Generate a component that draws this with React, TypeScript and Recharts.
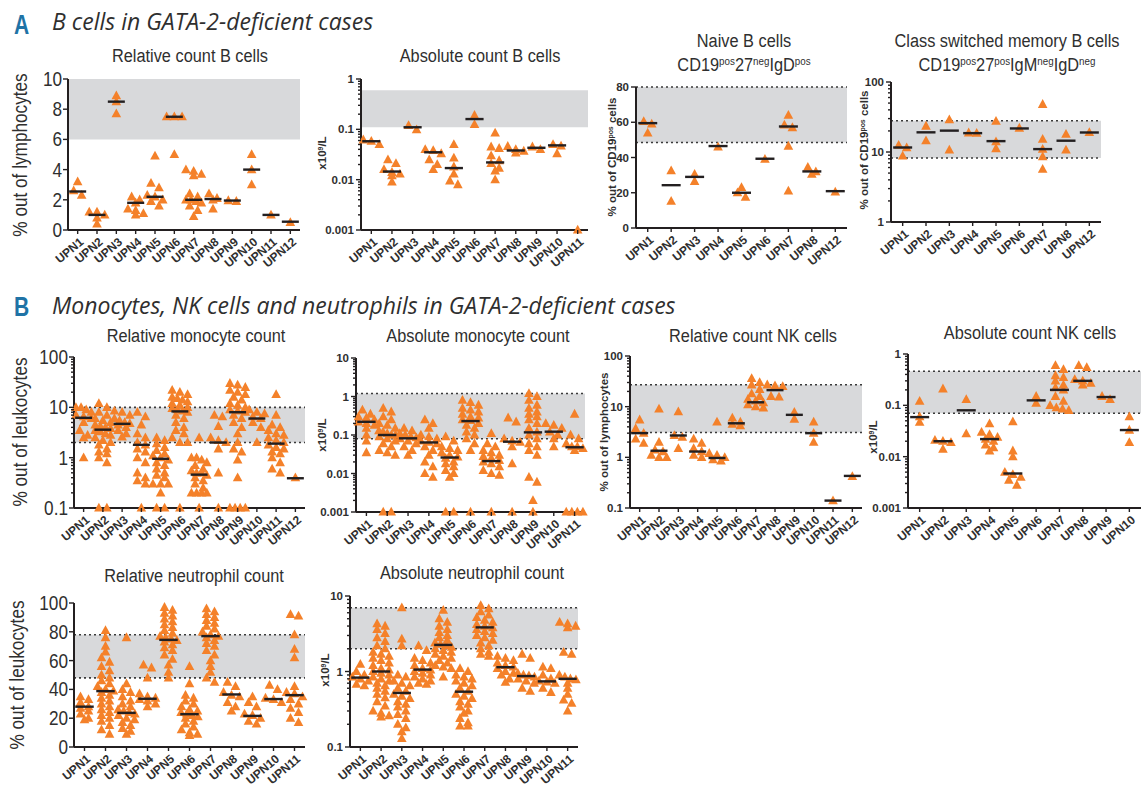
import React from 'react';
import { ScatterChart, Scatter, XAxis, YAxis, ReferenceArea, ReferenceLine } from 'recharts';

const ORANGE = '#f4812a';
const INK = '#231f20';
const BAND = '#d8d9db';
const TXT = '#2f2f2f';
const SANS = "'Liberation Sans',Arial,sans-serif";
const SQUEEZE = 0.86; // Arial scaled down reads like the condensed face of the original

// ---- categories ----
const upn12 = ['UPN1', 'UPN2', 'UPN3', 'UPN4', 'UPN5', 'UPN6', 'UPN7', 'UPN8', 'UPN9', 'UPN10', 'UPN11', 'UPN12'];
const upn11 = upn12.slice(0, 11);
const upn10 = upn12.slice(0, 10);
const upnSubset = ['UPN1', 'UPN2', 'UPN3', 'UPN4', 'UPN5', 'UPN6', 'UPN7', 'UPN8', 'UPN12'];

// ---- A: B cells ----
const relBValues = [
  [3.2, 2.6, 2.3], [1.2, 1.2, 1.0, 0.8, 0.4], [8.9, 8.5, 7.7], [2.2, 2.0, 1.8, 1.4, 1.3, 1.1, 1.0],
  [4.9, 3.1, 2.8, 2.3, 2.2, 2.0, 1.9, 1.6], [7.5, 7.5, 7.5, 5.0],
  [4.0, 3.9, 3.7, 3.6, 2.4, 2.2, 2.0, 2.0, 1.9, 1.8, 1.6, 1.3, 0.9], [2.4, 2.1, 2.0, 1.4], [1.95, 1.9],
  [5.0, 4.0, 3.0], [1.0], [0.5],
];
const relBMedians = [2.55, 1.0, 8.5, 1.8, 2.2, 7.5, 2.0, 2.05, 1.95, 4.0, 1.0, 0.55];
const relBTicks = [0, 2, 4, 6, 8, 10];
const relBRange: [number, number] = [6, 10];

const absBValues = [
  [0.062, 0.058, 0.05], [0.025, 0.021, 0.016, 0.014, 0.013, 0.012, 0.009], [0.12, 0.098],
  [0.04, 0.038, 0.033, 0.025, 0.02, 0.016], [0.05, 0.027, 0.018, 0.013, 0.0095, 0.008], [0.19, 0.125],
  [0.085, 0.045, 0.042, 0.03, 0.024, 0.021, 0.017, 0.015, 0.01], [0.046, 0.04, 0.037, 0.034], [0.045, 0.04],
  [0.05, 0.047, 0.033], [0.001],
];
const absBMedians = [0.058, 0.0145, 0.11, 0.035, 0.017, 0.16, 0.022, 0.038, 0.043, 0.048, null];
const absBTicks = [0.001, 0.01, 0.1, 1];
const absBRange: [number, number] = [0.11, 0.6];

const naiveValues = [
  [60.5, 59, 54], [32.5, 15.2], [30.5, 26.5], [46], [23, 20, 17.5], [39], [64, 58.5, 57, 46.5, 21],
  [34.5, 32, 30.5], [20.5],
];
const naiveMedians = [59.5, 24.3, 29, 46.5, 20, 39.3, 57.6, 32.1, 20.9];
const naiveTicks = [0, 20, 40, 60, 80];
const naiveRange: [number, number] = [48.5, 80];

const csmValues = [
  [12.5, 11.5, 8.8], [23.5, 14.5], [29, 10.7], [18.8, 18.6], [27.5, 14, 11.2], [22],
  [48, 15.2, 11, 8.6, 5.7], [18, 10.7], [19],
];
const csmMedians = [11.6, 19.1, 20.2, 18.6, 14.3, 21.7, 11, 14.5, 19];
const csmTicks = [1, 10, 100];
const csmRange: [number, number] = [8.2, 28];

// ---- B: monocytes, NK cells, neutrophils ----
const relMonoValues = [
  [10, 10, 9, 8, 7, 6.5, 6, 5, 3.5, 2.8, 2.5, 1.0],
  [12, 10, 8, 7, 6, 5.5, 5, 4.5, 4.2, 4, 3.8, 3.5, 3.3, 3, 2.8, 2.5, 2.2, 2, 1.8, 1.5, 1.3, 1.2, 1.0, 0.8, 0.1, 0.1],
  [8.5, 8, 7, 6, 5.5, 5, 4.8, 4.5, 4, 3.5, 3, 2.6],
  [8, 6.5, 4.5, 3, 2.5, 2, 1.8, 1.5, 1.3, 1, 0.8, 0.5, 0.4, 0.35, 0.3, 0.1],
  [2.5, 2.2, 1.9, 1.6, 1.4, 1.2, 1.1, 1.0, 0.9, 0.8, 0.7, 0.6, 0.5, 0.45, 0.4, 0.3, 0.3, 0.3, 0.2, 0.1, 0.1],
  [22, 20, 18, 16, 15, 14, 13, 12, 11, 10, 9.5, 9, 8.5, 8, 7, 6, 5, 4, 3.5, 3, 2.5, 2, 2, 0.1],
  [2.5, 1, 1, 0.9, 0.8, 0.7, 0.6, 0.55, 0.5, 0.5, 0.45, 0.4, 0.35, 0.3, 0.25, 0.2, 0.2, 0.2, 0.2, 0.1],
  [7, 6.5, 4.2, 2.5, 2.2, 2, 1.5, 0.5, 0.1],
  [30, 28, 25, 22, 20, 18, 16, 14, 12, 11, 10, 9, 8.5, 8, 7, 6, 5, 4, 3, 2, 1.5, 1.3, 0.9, 0.4, 0.1, 0.1, 0.1, 0.1],
  [9, 8, 7.5, 6.5, 6, 5, 4, 2],
  [18, 7, 4.5, 4, 3.5, 3, 2.8, 2.5, 2.2, 2, 1.8, 1.6, 1.5, 1.3, 1.2, 1, 0.8, 0.6, 0.5],
  [0.4],
];
const relMonoMedians = [6.2, 3.6, 4.7, 1.8, 0.95, 8.3, 0.46, 2.0, 8.0, 6.0, 1.9, 0.39];
const relMonoTicks = [0.1, 1, 10, 100];
const relMonoRange: [number, number] = [2, 10];

const absMonoValues = [
  [0.45, 0.35, 0.3, 0.28, 0.25, 0.22, 0.2, 0.18, 0.15, 0.1, 0.07, 0.035],
  [0.5, 0.4, 0.3, 0.25, 0.2, 0.18, 0.15, 0.13, 0.12, 0.11, 0.1, 0.1, 0.09, 0.08, 0.07, 0.06, 0.05, 0.04, 0.035, 0.03, 0.001, 0.001],
  [0.15, 0.13, 0.11, 0.1, 0.09, 0.085, 0.08, 0.07, 0.06, 0.05, 0.04, 0.03],
  [0.25, 0.2, 0.15, 0.1, 0.09, 0.08, 0.07, 0.065, 0.06, 0.05, 0.04, 0.03, 0.02, 0.015, 0.01, 0.008],
  [0.09, 0.07, 0.05, 0.045, 0.04, 0.035, 0.03, 0.027, 0.025, 0.02, 0.018, 0.015, 0.012, 0.01, 0.008, 0.001, 0.001],
  [0.8, 0.7, 0.6, 0.5, 0.45, 0.4, 0.35, 0.3, 0.28, 0.25, 0.24, 0.2, 0.18, 0.15, 0.12, 0.1, 0.08, 0.06, 0.04, 0.001],
  [0.11, 0.06, 0.05, 0.04, 0.035, 0.03, 0.028, 0.025, 0.022, 0.02, 0.018, 0.015, 0.012, 0.01, 0.009, 0.001],
  [0.28, 0.22, 0.08, 0.07, 0.065, 0.05, 0.018, 0.001],
  [1.2, 1.0, 0.8, 0.6, 0.5, 0.4, 0.35, 0.3, 0.25, 0.2, 0.15, 0.12, 0.1, 0.08, 0.06, 0.05, 0.04, 0.03, 0.008, 0.006, 0.002, 0.001],
  [0.2, 0.18, 0.15, 0.12, 0.1, 0.08, 0.05],
  [0.35, 0.1, 0.08, 0.06, 0.05, 0.05, 0.045, 0.04, 0.001, 0.001, 0.001, 0.001],
];
const absMonoMedians = [0.22, 0.1, 0.082, 0.064, 0.026, 0.23, 0.021, 0.067, 0.117, 0.122, 0.048];
const absMonoTicks = [0.001, 0.01, 0.1, 1, 10];
const absMonoRange: [number, number] = [0.08, 1.2];

const relNKValues = [
  [5.5, 3.7, 3, 2.3, 1.9], [9, 2, 1.4, 1.3, 1.1, 1.0, 1.0], [8, 2.7, 2.5, 1.5], [2.3, 1.9, 1.5, 1.3, 1.1, 1.0],
  [5, 1.2, 1.1, 1.0, 0.9, 0.85], [6, 5, 4.5, 4.2], [36, 30, 27, 22, 18, 16, 14, 13, 12, 11, 10, 9.5],
  [27, 26, 25, 16, 15.5], [7.8, 5.7], [5, 3, 2], [0.14], [0.42],
];
const relNKMedians = [3.0, 1.35, 2.7, 1.3, 0.97, 4.7, 12.2, 21.2, 6.9, 3.0, 0.14, 0.43];
const relNKTicks = [0.1, 1, 10, 100];
const relNKRange: [number, number] = [3.1, 27];

const absNKValues = [
  [0.12, 0.06, 0.047], [0.21, 0.021, 0.02, 0.019, 0.014], [0.13, 0.028],
  [0.044, 0.03, 0.027, 0.024, 0.022, 0.02, 0.017, 0.015, 0.013],
  [0.048, 0.013, 0.01, 0.005, 0.0045, 0.004, 0.0035, 0.0028], [0.15, 0.11],
  [0.6, 0.5, 0.38, 0.35, 0.3, 0.25, 0.22, 0.2, 0.15, 0.12, 0.1, 0.09, 0.085, 0.08],
  [0.6, 0.55, 0.32, 0.3, 0.27, 0.25], [0.15, 0.13], [0.06, 0.033, 0.019],
];
const absNKMedians = [0.059, 0.02, 0.08, 0.022, 0.0047, 0.125, 0.2, 0.3, 0.145, 0.033];
const absNKTicks = [0.001, 0.01, 0.1, 1];
const absNKRange: [number, number] = [0.07, 0.46];

const relNeuValues = [
  [35, 33, 31, 28, 27, 25, 23, 20, 19],
  [81, 76, 70, 66, 62, 59, 56, 53, 50, 48, 46, 44, 42, 40, 39, 38, 36, 34, 32, 30, 28, 26, 24, 22, 20, 18, 15, 12, 9],
  [76, 44, 40, 38, 35, 32, 30, 28, 26, 25, 24, 23, 22, 20, 19, 17, 15, 13, 11, 9],
  [57, 55, 48, 37, 35, 34, 33, 32, 30, 28],
  [97, 95, 93, 91, 89, 87, 85, 83, 81, 79, 77, 76, 75, 74, 73, 71, 69, 67, 64, 61, 57, 52, 48],
  [56, 44, 36, 34, 32, 30, 28, 26, 25, 24, 23, 22, 21, 20, 18, 16, 14, 12, 10, 9, 8],
  [96, 94, 92, 90, 88, 86, 84, 82, 80, 78, 77, 76, 74, 72, 70, 67, 64, 60, 56, 52, 48, 45],
  [45, 42, 38, 36, 35, 31, 28, 25], [35, 31, 28, 23, 22, 20, 18, 16], [43, 40, 34, 33, 31],
  [92, 91, 78, 68, 62, 42, 38, 37, 35, 33, 30, 27, 24, 20, 17],
];
const relNeuMedians = [28, 38.8, 23.7, 33.5, 74.4, 22.8, 77, 36.5, 21.6, 33.3, 36];
const relNeuTicks = [0, 20, 40, 60, 80, 100];
const relNeuRange: [number, number] = [48, 78];

const absNeuValues = [
  [1.25, 1.0, 0.9, 0.85, 0.8, 0.75, 0.68, 0.65],
  [4.3, 4.0, 3.6, 3.2, 2.8, 2.5, 2.2, 2.0, 1.8, 1.7, 1.6, 1.5, 1.4, 1.3, 1.2, 1.1, 1.05, 1.0, 0.95, 0.9, 0.85, 0.8, 0.75, 0.7, 0.65, 0.6, 0.55, 0.5, 0.45, 0.4, 0.35, 0.3, 0.28, 0.26, 0.25],
  [7.0, 2.7, 2.2, 0.9, 0.85, 0.75, 0.7, 0.65, 0.6, 0.55, 0.5, 0.47, 0.44, 0.4, 0.37, 0.34, 0.3, 0.27, 0.24, 0.2, 0.18, 0.16, 0.13],
  [2.2, 1.9, 1.5, 1.4, 1.3, 1.2, 1.1, 1.05, 1.0, 0.95, 0.9, 0.85, 0.8, 0.75, 0.7, 0.68],
  [6.5, 5.0, 4.5, 4.0, 3.6, 3.3, 3.0, 2.8, 2.6, 2.4, 2.3, 2.2, 2.1, 2.0, 1.9, 1.8, 1.7, 1.6, 1.5, 1.4, 1.3, 1.2, 1.15, 1.1, 0.85],
  [1.1, 1.0, 0.9, 0.85, 0.8, 0.75, 0.7, 0.65, 0.6, 0.55, 0.5, 0.47, 0.44, 0.4, 0.37, 0.34, 0.3, 0.28, 0.24, 0.21, 0.19, 0.19],
  [7.5, 6.8, 6.2, 5.6, 5.2, 4.8, 4.5, 4.2, 4.0, 3.8, 3.6, 3.4, 3.2, 3.0, 2.8, 2.6, 2.4, 2.2, 2.0, 1.8, 1.7, 1.6],
  [1.6, 1.5, 1.4, 1.3, 1.2, 1.15, 1.1, 1.0, 0.95, 0.9, 0.8, 0.72],
  [1.7, 1.5, 0.95, 0.9, 0.88, 0.85, 0.8, 0.75, 0.7, 0.6, 0.55],
  [1.15, 1.1, 0.9, 0.8, 0.75, 0.73, 0.7, 0.6, 0.53],
  [4.5, 4.3, 4.0, 3.8, 1.8, 1.7, 0.9, 0.85, 0.8, 0.78, 0.7, 0.6, 0.5, 0.42, 0.38, 0.3],
];
const absNeuMedians = [0.83, 1.0, 0.52, 1.06, 2.25, 0.54, 3.84, 1.14, 0.87, 0.74, 0.8];
const absNeuTicks = [0.1, 1, 10];
const absNeuRange: [number, number] = [2.0, 7.0];

// ---- panel component ----
const Y_W = 60;
const M_TOP = 10;
const X_H = 56;
const M_RIGHT = 4;

type Box = { x0: number; x1: number; y0: number; y1: number };
type PanelProps = {
  cats: string[];
  values: number[][];
  medians: (number | null)[];
  ticks: number[];
  band: [number, number];
  log?: boolean;
  dotted?: boolean;
  big?: boolean;
  box: Box;
};

const withMinor = (majors: number[]) => {
  const out: number[] = [];
  for (let i = 0; i < majors.length - 1; i++) {
    for (let k = 1; k < 10; k++) out.push(+(majors[i] * k).toPrecision(3));
  }
  out.push(majors[majors.length - 1]);
  return out;
};

const Tri = (props: any) => {
  const { cx, cy } = props;
  if (cx == null || cy == null) return <g />;
  return <polygon points={`${cx},${cy - 5.2} ${cx - 4.8},${cy + 3.6} ${cx + 4.8},${cy + 3.6}`} fill={ORANGE} />;
};

function DotPanel(p: PanelProps) {
  const { x0, x1, y0, y1 } = p.box;
  const plotW = x1 - x0;
  const plotH = y1 - y0;
  const n = p.cats.length;
  const step = plotW / n;
  const domain: [number, number] = [p.ticks[0], p.ticks[p.ticks.length - 1]];
  const tf = (v: number) => (p.log ? Math.log10(v) : v);
  const pxPer = plotH / (tf(domain[1]) - tf(domain[0]));

  // spread points of similar value side by side (dot-plot layout)
  const points: { x: number; y: number }[] = [];
  p.values.forEach((vals, i) => {
    const sorted = [...vals].sort((a, b) => b - a);
    const rows: number[][] = [];
    sorted.forEach((v) => {
      const last = rows[rows.length - 1];
      if (last && (tf(last[0]) - tf(v)) * pxPer < 5) last.push(v);
      else rows.push([v]);
    });
    rows.forEach((row) => {
      const m = row.length;
      const sp = Math.min(8, (0.8 * step) / Math.max(m - 1, 1));
      row.forEach((v, k) => points.push({ x: i + 1 + ((k - (m - 1) / 2) * sp) / step, y: v }));
    });
  });
  const meds = p.medians
    .map((m, i) => (m == null ? null : { x: i + 1, y: m }))
    .filter((d): d is { x: number; y: number } => d !== null);
  const medW = Math.min(0.88 * step, 19);

  const yTicks = p.log ? withMinor(p.ticks) : p.ticks;
  const axisY = M_TOP + plotH;

  const yTick = (props: any) => {
    const { y, payload } = props;
    const v = payload.value;
    const major = p.ticks.indexOf(v) >= 0;
    const tx = Y_W - (p.big ? 6 : 7);
    return (
      <g>
        <line x1={Y_W} x2={Y_W - (major ? 5 : 3)} y1={y} y2={y} stroke={INK} strokeWidth={1.4} />
        {major && (
          <text
            transform={p.big ? `translate(${tx},${y}) scale(${SQUEEZE},1)` : `translate(${tx},${y})`}
            dy="0.35em"
            textAnchor="end"
            fill={TXT}
            fontFamily={SANS}
            fontSize={p.big ? 20 : 11.5}
            fontWeight={p.big ? 'normal' : 'bold'}
          >
            {String(v)}
          </text>
        )}
      </g>
    );
  };

  const xTick = (props: any) => {
    const { x, payload } = props;
    return (
      <g>
        <line x1={x} x2={x} y1={axisY} y2={axisY + 4} stroke={INK} strokeWidth={1.4} />
        <text
          transform={`translate(${x + 4},${axisY + 10}) rotate(-40)`}
          textAnchor="end"
          dy="0.35em"
          fill={TXT}
          fontFamily={SANS}
          fontSize={12}
          fontWeight="bold"
        >
          {p.cats[payload.value - 1]}
        </text>
      </g>
    );
  };

  const medShape = (props: any) => {
    const { cx, cy } = props;
    if (cx == null || cy == null) return <g />;
    return <line x1={cx - medW / 2} x2={cx + medW / 2} y1={cy} y2={cy} stroke={INK} strokeWidth={2.4} />;
  };

  return (
    <div style={{ position: 'absolute', left: x0 - Y_W, top: y0 - M_TOP }}>
      <ScatterChart
        width={Y_W + plotW + M_RIGHT}
        height={M_TOP + plotH + X_H}
        margin={{ top: M_TOP, right: M_RIGHT, left: 0, bottom: 0 }}
      >
        <XAxis
          type="number"
          dataKey="x"
          domain={[0.5, n + 0.5]}
          ticks={p.cats.map((_, i) => i + 1)}
          interval={0}
          height={X_H}
          tick={xTick}
          tickLine={false}
          axisLine={{ stroke: INK, strokeWidth: 2 }}
        />
        <YAxis
          type="number"
          dataKey="y"
          scale={p.log ? 'log' : 'linear'}
          domain={domain}
          ticks={yTicks}
          interval={0}
          width={Y_W}
          tick={yTick}
          tickLine={false}
          axisLine={{ stroke: INK, strokeWidth: 2 }}
        />
        <ReferenceArea y1={p.band[0]} y2={p.band[1]} fill={BAND} fillOpacity={1} stroke="none" />
        {p.dotted && <ReferenceLine y={p.band[0]} stroke="#3a3a3a" strokeWidth={1.6} strokeDasharray="2 3" />}
        {p.dotted && <ReferenceLine y={p.band[1]} stroke="#3a3a3a" strokeWidth={1.6} strokeDasharray="2 3" />}
        <Scatter data={points} shape={Tri} isAnimationActive={false} />
        <Scatter data={meds} shape={medShape} isAnimationActive={false} />
      </ScatterChart>
    </div>
  );
}

// ---- text helpers ----
const Rich = ({ parts, size }: { parts: string[]; size: number }) => (
  <>
    {parts.map((s, i) =>
      s.startsWith('^') ? (
        <tspan key={i} fontSize={size * 0.6} baselineShift="super">
          {s.slice(1)}
        </tspan>
      ) : (
        <tspan key={i}>{s}</tspan>
      )
    )}
  </>
);

const Title = ({ x, y, parts }: { x: number; y: number; parts: string[] }) => (
  <text
    transform={`translate(${x},${y}) scale(${SQUEEZE},1)`}
    textAnchor="middle"
    fontFamily={SANS}
    fontSize={19}
    fill={TXT}
  >
    <Rich parts={parts} size={19} />
  </text>
);

const YLabel = ({ x, y, parts, big }: { x: number; y: number; parts: string[]; big?: boolean }) => (
  <text
    transform={`translate(${x},${y}) rotate(-90)${big ? ` scale(${SQUEEZE},1)` : ''}`}
    textAnchor="middle"
    dy="0.35em"
    fontFamily={SANS}
    fontSize={big ? 20 : 11.5}
    fontWeight={big ? 'normal' : 'bold'}
    fill={TXT}
  >
    <Rich parts={parts} size={big ? 20 : 11.5} />
  </text>
);

const HEAD = "'Open Sans',Lato,sans-serif";

export default function App() {
  return (
    <div
      style={{ position: 'absolute', left: 0, top: 0, width: 1141, height: 789, background: '#fff', overflow: 'hidden' }}
    >
      <DotPanel cats={upn12} values={relBValues} medians={relBMedians} ticks={relBTicks} band={relBRange} big
        box={{ x0: 68, x1: 300, y0: 79, y1: 230 }} />
      <DotPanel cats={upn11} values={absBValues} medians={absBMedians} ticks={absBTicks} band={absBRange} log
        box={{ x0: 361, x1: 588, y0: 79, y1: 230 }} />
      <DotPanel cats={upnSubset} values={naiveValues} medians={naiveMedians} ticks={naiveTicks} band={naiveRange} dotted
        box={{ x0: 636, x1: 847, y0: 87, y1: 228 }} />
      <DotPanel cats={upnSubset} values={csmValues} medians={csmMedians} ticks={csmTicks} band={csmRange} log dotted
        box={{ x0: 891, x1: 1101, y0: 82, y1: 222 }} />
      <DotPanel cats={upn12} values={relMonoValues} medians={relMonoMedians} ticks={relMonoTicks} band={relMonoRange} log dotted big
        box={{ x0: 74, x1: 305, y0: 357, y1: 508 }} />
      <DotPanel cats={upn11} values={absMonoValues} medians={absMonoMedians} ticks={absMonoTicks} band={absMonoRange} log dotted
        box={{ x0: 356, x1: 585, y0: 358, y1: 512 }} />
      <DotPanel cats={upn12} values={relNKValues} medians={relNKMedians} ticks={relNKTicks} band={relNKRange} log dotted
        box={{ x0: 630, x1: 862, y0: 356, y1: 508 }} />
      <DotPanel cats={upn10} values={absNKValues} medians={absNKMedians} ticks={absNKTicks} band={absNKRange} log dotted
        box={{ x0: 908, x1: 1141, y0: 354, y1: 508 }} />
      <DotPanel cats={upn11} values={relNeuValues} medians={relNeuMedians} ticks={relNeuTicks} band={relNeuRange} dotted big
        box={{ x0: 74, x1: 305, y0: 603, y1: 747 }} />
      <DotPanel cats={upn11} values={absNeuValues} medians={absNeuMedians} ticks={absNeuTicks} band={absNeuRange} log dotted
        box={{ x0: 350, x1: 578, y0: 596, y1: 747 }} />

      <svg width={1141} height={789} style={{ position: 'absolute', left: 0, top: 0, pointerEvents: 'none' }}>
        <text transform="translate(14,34) scale(0.78,1)" fontFamily={SANS} fontWeight="bold" fontSize={27} fill="#1f73a6">A</text>
        <text x={52} y={30} fontFamily={HEAD} fontStyle="italic" fontSize={23} fill={TXT}>
          B cells in GATA-2-deficient cases
        </text>
        <text transform="translate(14,316) scale(0.78,1)" fontFamily={SANS} fontWeight="bold" fontSize={27} fill="#1f73a6">B</text>
        <text x={52} y={314} fontFamily={HEAD} fontStyle="italic" fontSize={23} fill={TXT}>
          Monocytes, NK cells and neutrophils in GATA-2-deficient cases
        </text>

        <Title x={190} y={62} parts={['Relative count B cells']} />
        <Title x={480} y={62} parts={['Absolute count B cells']} />
        <Title x={744} y={47} parts={['Naive B cells']} />
        <Title x={744} y={71} parts={['CD19', '^pos', '27', '^neg', 'IgD', '^pos']} />
        <Title x={1007} y={47} parts={['Class switched memory B cells']} />
        <Title x={1007} y={71} parts={['CD19', '^pos', '27', '^pos', 'IgM', '^neg', 'IgD', '^neg']} />
        <Title x={196} y={342} parts={['Relative monocyte count']} />
        <Title x={478} y={342} parts={['Absolute monocyte count']} />
        <Title x={753} y={342} parts={['Relative count NK cells']} />
        <Title x={1030} y={339} parts={['Absolute count NK cells']} />
        <Title x={194} y={582} parts={['Relative neutrophil count']} />
        <Title x={472} y={579} parts={['Absolute neutrophil count']} />

        <YLabel x={20} y={155} parts={['% out of lymphocytes']} big />
        <YLabel x={322} y={153} parts={['x10', '^9', '/L']} />
        <YLabel x={612} y={157} parts={['% out of CD19', '^pos', ' cells']} />
        <YLabel x={864} y={150} parts={['% out of CD19', '^pos', ' cells']} />
        <YLabel x={20} y={432} parts={['% out of leukocytes']} big />
        <YLabel x={322} y={435} parts={['x10', '^9', '/L']} />
        <YLabel x={604} y={432} parts={['% out of lymphocytes']} />
        <YLabel x={873} y={437} parts={['x10', '^9', '/L']} />
        <YLabel x={17} y={675} parts={['% out of leukocytes']} big />
        <YLabel x={325} y={670} parts={['x10', '^9', '/L']} />
      </svg>
    </div>
  );
}
